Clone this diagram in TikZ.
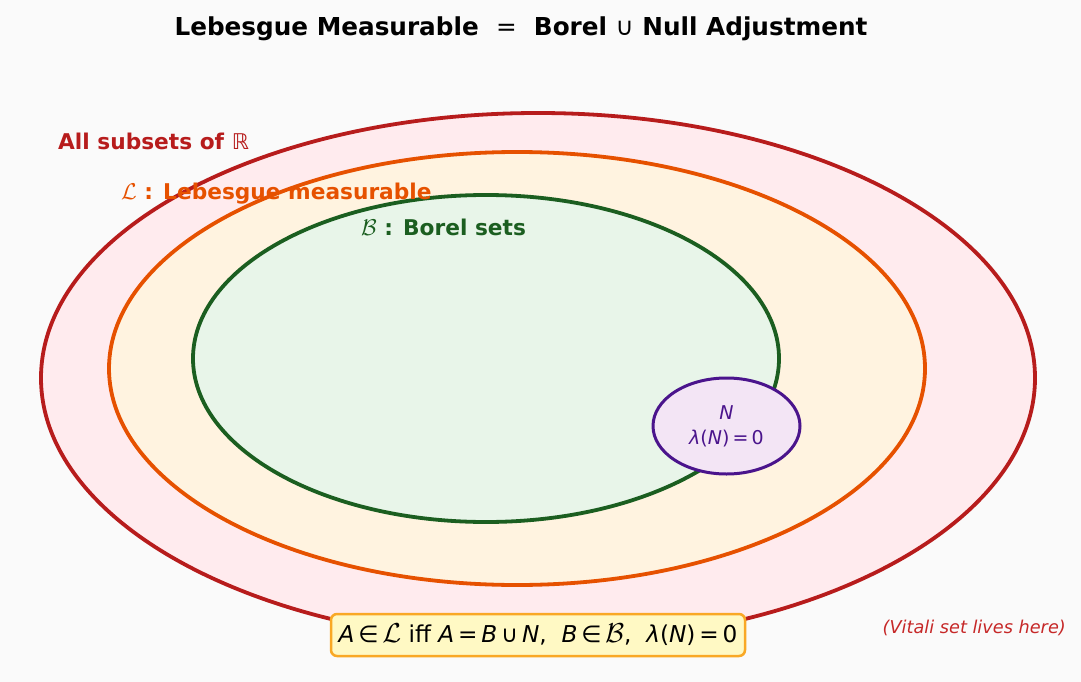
\documentclass[tikz,border=0pt]{standalone}
\usepackage{fontspec}
\setmainfont{DejaVu Sans}
\usetikzlibrary{shapes.geometric}
\definecolor{bg}{HTML}{FAFAFA}
\definecolor{redS}{HTML}{B71C1C}
\definecolor{redF}{HTML}{FFEBEE}
\definecolor{orS}{HTML}{E65100}
\definecolor{orF}{HTML}{FFF3E0}
\definecolor{grS}{HTML}{1B5E20}
\definecolor{grF}{HTML}{E8F5E9}
\definecolor{puS}{HTML}{4A148C}
\definecolor{puF}{HTML}{F3E5F5}
\definecolor{boxS}{HTML}{F9A825}
\definecolor{boxF}{HTML}{FFF9C4}
\definecolor{vit}{HTML}{C62828}
\newcommand{\mi}[1]{\textit{#1}}
\newcommand{\calig}[1]{\scalebox{1.1}{$\mathcal{#1}$}}
\tikzset{
  setell/.style={ellipse, inner sep=0pt, line width=3.8pt},
  lbl/.style={inner sep=0pt, anchor=west, font=\fontsize{21.7}{26}\selectfont\bfseries},
}
\begin{document}
\begin{tikzpicture}[x=1pt,y=-1pt]
\fill[bg] (0,0) rectangle (1081,682);
\useasboundingbox (0,0) rectangle (1081,682);
\node[setell, draw=redS, fill=redF, minimum width=994pt, minimum height=530pt] (all) at (538,378) {};
\node[setell, draw=orS, fill=orF, minimum width=816pt, minimum height=433pt] (leb) at (517,368.5) {};
\node[setell, draw=grS, fill=grF, minimum width=586pt, minimum height=327pt] (bor) at (486,358.5) {};
\node[setell, draw=puS, fill=puF, line width=3pt, minimum width=147pt, minimum height=96pt] (null) at (726.5,426) {};
\node[inner sep=0pt, font=\fontsize{24.7}{29}\selectfont\bfseries] (title) at (521,29) {Lebesgue Measurable \ \textmd{=} \ Borel \textmd{∪} Null Adjustment};
\node[lbl, text=redS] (lall) at (58,141) {All subsets of \textmd{ℝ}};
\node[lbl, text=orS] (lleb) at (121,194) {\calig{L} : Lebesgue measurable};
\node[lbl, text=grS] (lbor) at (361,227) {\calig{B} : Borel sets};
\node[inner sep=0pt, text=puS, font=\fontsize{19}{25}\selectfont, align=center] (lnull) at (726.5,426) {\mi{N}\\\mi{λ}(\mi{N})\,=\,0};
\node[draw=boxS, fill=boxF, line width=2.5pt, rounded corners=6pt, minimum width=414pt, minimum height=42pt, inner sep=0pt, font=\fontsize{23.2}{27}\selectfont] (formula) at (538,635) {\mi{A}\,∈\,\calig{L} iff \mi{A}\,=\,\mi{B}\,∪\,\mi{N}, \ \mi{B}\,∈\,\calig{B}, \ \mi{λ}(\mi{N})\,=\,0};
\node[inner sep=0pt, anchor=east, text=vit, font=\fontsize{17.7}{21}\selectfont\itshape] (vitali) at (1066,628) {(Vitali set lives here)};
\end{tikzpicture}
\end{document}
